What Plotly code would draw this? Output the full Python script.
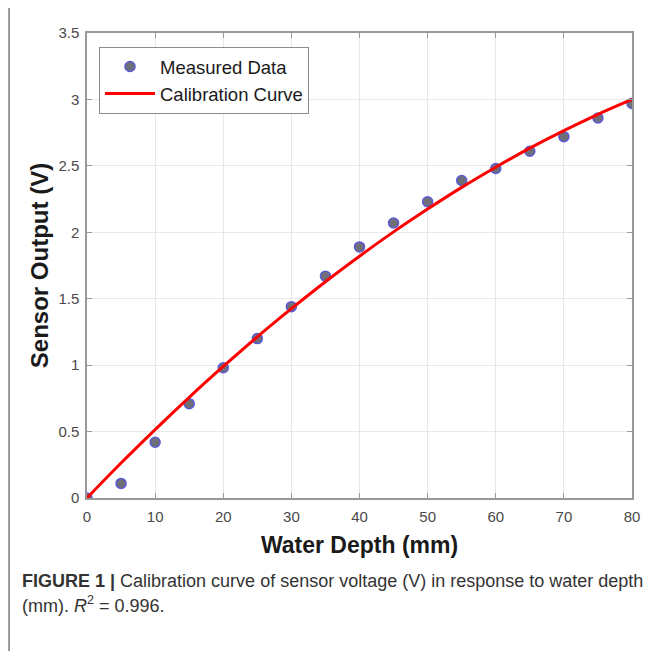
import plotly.graph_objects as go

depth_mm = [0, 5, 10, 15, 20, 25, 30, 35, 40, 45, 50, 55, 60, 65, 70, 75, 80]
measured_v = [0.00, 0.11, 0.42, 0.71, 0.98, 1.20, 1.44, 1.67, 1.89, 2.07, 2.23, 2.39, 2.48, 2.61, 2.72, 2.86, 2.97]
curve_v = [0.000, 0.263, 0.515, 0.758, 0.990, 1.213, 1.425, 1.628, 1.820, 2.003, 2.175, 2.338, 2.490, 2.633, 2.765, 2.888, 3.000]
x_ticks = [0, 10, 20, 30, 40, 50, 60, 70, 80]
y_ticks = [0, 0.5, 1, 1.5, 2, 2.5, 3, 3.5]
y_tick_text = ["0", "0.5", "1", "1.5", "2", "2.5", "3", "3.5"]

FONT = "Liberation Sans, Arial, sans-serif"

fig = go.Figure()
fig.add_trace(go.Scatter(
    x=depth_mm, y=measured_v, mode="markers", name="Measured Data",
    marker=dict(size=10, color="#6f6f78", line=dict(color="#5a5ad8", width=1.5)),
))
fig.add_trace(go.Scatter(
    x=depth_mm, y=curve_v, mode="lines", name="Calibration Curve",
    line=dict(color="#ff0000", width=3, shape="spline"),
))

axis_common = dict(
    showline=True, linecolor="#999999", linewidth=1.5, mirror="ticks",
    ticks="inside", ticklen=5, tickcolor="#999999",
    showgrid=True, gridcolor="#e8e8e8", gridwidth=1, zeroline=False,
    tickfont=dict(family=FONT, size=15, color="#4a4a4a"),
)

fig.update_xaxes(range=[0, 80], tickvals=x_ticks, ticklabelstandoff=4, **axis_common,
                 title=dict(text="<b>Water Depth (mm)</b>", standoff=13,
                            font=dict(family=FONT, size=23, color="#1a1a1a")))
fig.update_yaxes(range=[0, 3.5], tickvals=y_ticks, ticktext=y_tick_text, ticklabelstandoff=3,
                 **axis_common,
                 title=dict(text="<b>Sensor Output (V)</b>", standoff=3,
                            font=dict(family=FONT, size=24, color="#1a1a1a")))

fig.update_layout(
    width=646, height=643,
    margin=dict(l=79, r=22, t=25, b=153),
    paper_bgcolor="white", plot_bgcolor="white",
    showlegend=True,
    legend=dict(x=0.022, y=0.97, xanchor="left", yanchor="top",
                bgcolor="white", bordercolor="#8c8c8c", borderwidth=1,
                font=dict(family=FONT, size=18.5, color="#1a1a1a"),
                itemwidth=50, tracegroupgap=0),
    shapes=[
        dict(type="line", xref="paper", yref="paper", x0=-0.143, x1=1.05, y0=1.0592, y1=1.0592,
             line=dict(color="#7a7a7a", width=1.5)),
        dict(type="line", xref="paper", yref="paper", x0=-0.143, x1=-0.143, y0=1.0592, y1=-0.33,
             line=dict(color="#7a7a7a", width=1.5)),
    ],
    annotations=[
        dict(xref="paper", yref="paper", x=(12 - 79) / 545, y=(490 - 573) / 465,
             xanchor="left", yanchor="middle", showarrow=False, align="left",
             text="<b>FIGURE 1 |</b> Calibration curve of sensor voltage (V) in response to water depth",
             font=dict(family=FONT, size=18, color="#333333")),
        dict(xref="paper", yref="paper", x=(12 - 79) / 545, y=(490 - 596) / 465,
             xanchor="left", yanchor="middle", showarrow=False, align="left",
             text="(mm). <i>R</i><sup>2</sup> = 0.996.",
             font=dict(family=FONT, size=18, color="#333333")),
    ],
)

fig.write_html("out.html")
